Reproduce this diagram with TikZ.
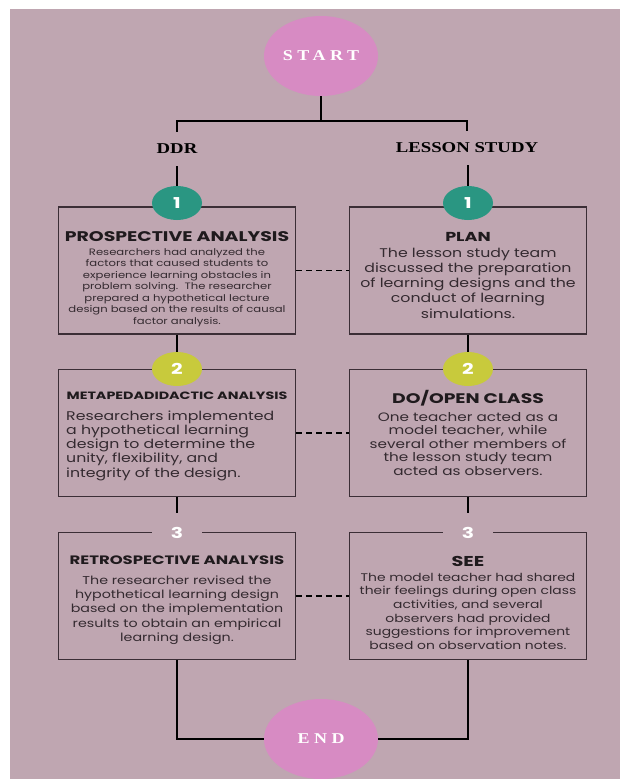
\documentclass[tikz,border=0pt]{standalone}
\usepackage{fontspec}
\setmainfont{Poppins}
\newfontfamily\headsans[FakeStretch=1.35]{Poppins}
\newfontfamily\bodysans[FakeStretch=1.25]{Poppins}
\newfontfamily\serifhead[FakeStretch=1.25]{Liberation Serif}
\newfontfamily\serifwide[LetterSpace=30,FakeStretch=1.2]{Liberation Serif}
\usetikzlibrary{shapes.geometric}
\definecolor{bgpink}{RGB}{191,166,177}
\definecolor{ovalpink}{RGB}{215,139,195}
\definecolor{tealbadge}{RGB}{42,150,130}
\definecolor{limebadge}{RGB}{200,202,60}
\definecolor{boxline}{RGB}{59,46,54}
\definecolor{titletext}{RGB}{31,26,29}
\definecolor{bodytext}{RGB}{52,42,48}

\begin{document}
\begin{tikzpicture}[x=1pt, y=-1pt,
	oval/.style={ellipse, fill=ovalpink, minimum width=114pt, minimum height=80pt, inner sep=0pt, text=white, font=\serifwide\bfseries\fontsize{15}{15}\selectfont},
	badge/.style={ellipse, minimum width=50pt, minimum height=34pt, inner sep=0pt, text=white, font=\headsans\bfseries\fontsize{15}{15}\selectfont},
	stage/.style={draw=boxline, line width=1.4pt, minimum width=237pt, minimum height=127pt, inner sep=0pt},
	branch/.style={text=black, inner xsep=0pt, inner ysep=12pt, font=\serifhead\bfseries\fontsize{15}{15}\selectfont},
	heading/.style={anchor=base, text=titletext, inner sep=0pt, font=\headsans\bfseries\fontsize{#1}{#1}\selectfont},
	body/.style={anchor=base, inner sep=0pt, text width=234pt, align=center, text=bodytext},
	stem/.style={black, line width=2.4pt},
	link/.style={black, line width=1.5pt, dash pattern=on 6pt off 4pt}]
	\useasboundingbox (0,0) rectangle (620,779);
	\fill[bgpink] (10,9) rectangle (620,779);

	\node[oval] (start) at (321,56) {START};
	\node[oval] (end) at (321,739) {END};
	\node[branch] (ddr) at (177,149) {DDR};
	\node[branch] (study) at (467,148) {LESSON STUDY};

	\node[stage] (ddr1) at (177,270.5) {};
	\node[stage] (ls1) at (468,270.5) {};
	\node[stage] (ddr2) at (177,433) {};
	\node[stage] (ls2) at (468,433) {};
	\node[stage] (ddr3) at (177,596) {};
	\node[stage] (ls3) at (468,596) {};

	\node[badge, fill=tealbadge] (n1l) at (177,203) {1};
	\node[badge, fill=tealbadge] (n1r) at (468,203) {1};
	\node[badge, fill=limebadge] (n2l) at (177,369) {2};
	\node[badge, fill=limebadge] (n2r) at (468,369) {2};
	\node[badge, fill=bgpink] (n3l) at (177,533) {3};
	\node[badge, fill=bgpink] (n3r) at (468,533) {3};

	\node[heading=14] (t1l) at (177,241) {PROSPECTIVE ANALYSIS};
	\node[body, font=\bodysans\fontsize{9.3}{11.5}\selectfont] (d1l) at (177,255) {Researchers had analyzed the\\ factors that caused students to\\ experience learning obstacles in\\ problem solving.\ \ The researcher\\ prepared a hypothetical lecture\\ design based on the results of causal\\ factor analysis.};
	\node[heading=13] (t1r) at (468,241) {PLAN};
	\node[body, font=\bodysans\fontsize{12.6}{15.3}\selectfont] (d1r) at (468,257) {The lesson study team\\ discussed the preparation\\ of learning designs and the\\ conduct of learning\\ simulations.};

	\node[heading=10.6] (t2l) at (177,399) {METAPEDADIDACTIC ANALYSIS};
	\node[body, anchor=base west, text width=222pt, align=left, font=\bodysans\fontsize{12.6}{14.3}\selectfont] (d2l) at (66,420) {Researchers implemented\\ a hypothetical learning\\ design to determine the\\ unity, flexibility, and\\ integrity of the design.};
	\node[heading=13.9] (t2r) at (468,403) {DO/OPEN CLASS};
	\node[body, font=\bodysans\fontsize{12.2}{13.6}\selectfont] (d2r) at (468,421) {One teacher acted as a\\ model teacher, while\\ several other members of\\ the lesson study team\\ acted as observers.};

	\node[heading=12.2] (t3l) at (177,564) {RETROSPECTIVE ANALYSIS};
	\node[body, font=\bodysans\fontsize{11.4}{14.4}\selectfont] (d3l) at (177,584) {The researcher revised the\\ hypothetical learning design\\ based on the implementation\\ results to obtain an empirical\\ learning design.};
	\node[heading=14.3] (t3r) at (468,566) {SEE};
	\node[body, font=\bodysans\fontsize{11.1}{13.7}\selectfont] (d3r) at (468,581) {The model teacher had shared\\ their feelings during open class\\ activities, and several\\ observers had provided\\ suggestions for improvement\\ based on observation notes.};

	\draw[stem] (start.south) -- ++(0,25) coordinate (fork);
	\draw[stem] (ddr.north) |- (fork) -| (study.north);
	\draw[stem] (ddr.south) -- (n1l.north);
	\draw[stem] (study.south -| n1r) -- (n1r.north);
	\draw[stem] (ddr1.south) -- (n2l.north);
	\draw[stem] (ls1.south) -- (n2r.north);
	\draw[stem] (ddr2.south) -- ++(0,16);
	\draw[stem] (ls2.south) -- ++(0,16);
	\draw[stem] (ddr3.south) |- (end.west);
	\draw[stem] (ls3.south) |- (end.east);

	\draw[link] (ddr1.east) -- (ls1.west);
	\draw[link] (ddr2.east) -- (ls2.west);
	\draw[link] (ddr3.east) -- (ls3.west);
\end{tikzpicture}
\end{document}
